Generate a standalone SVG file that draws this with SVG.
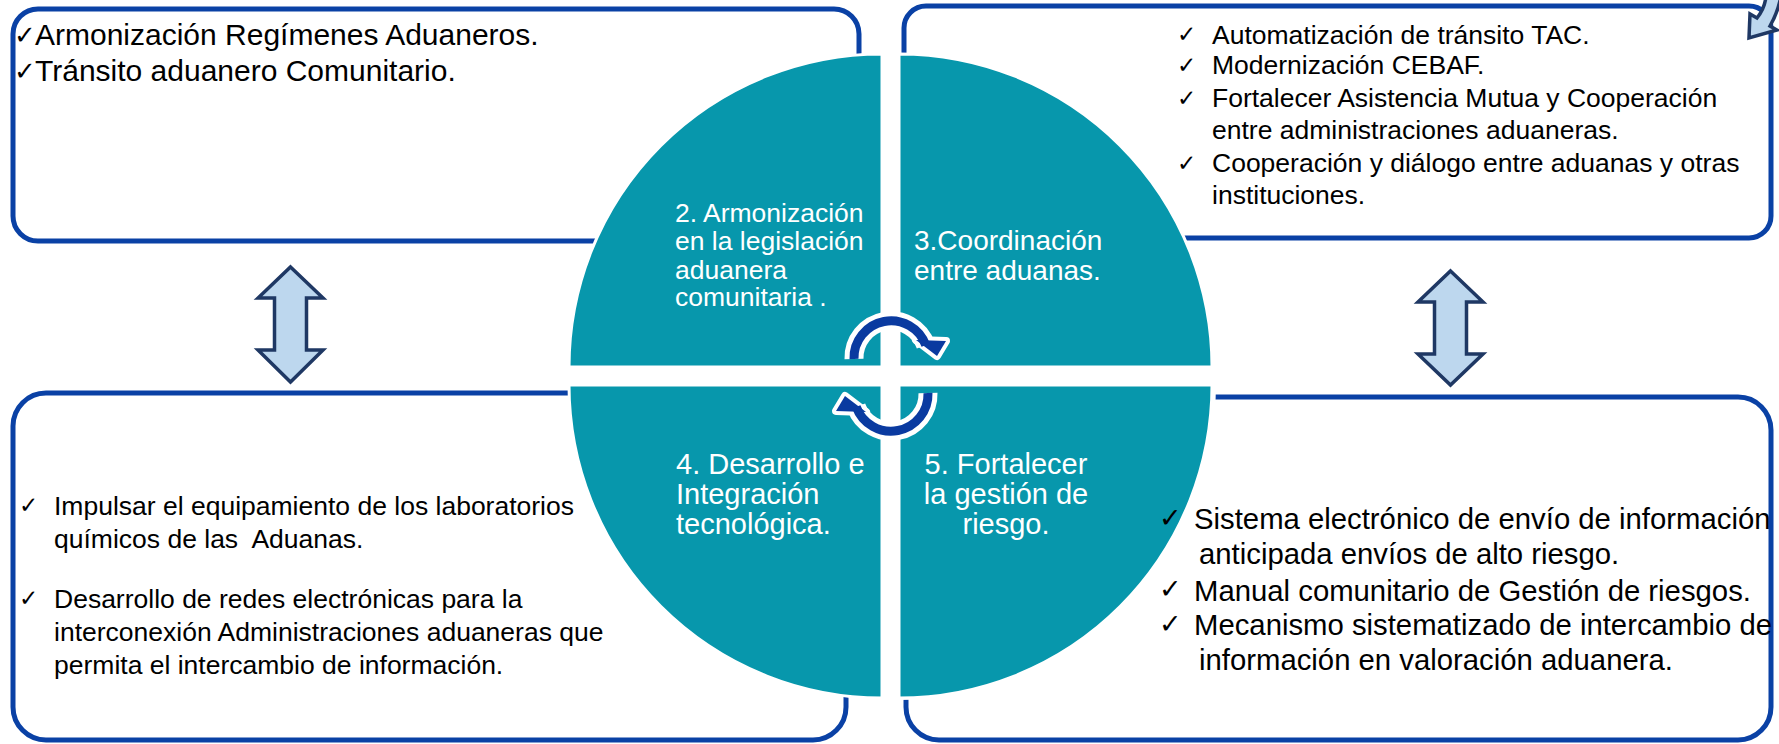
<svg xmlns="http://www.w3.org/2000/svg" width="1779" height="744" viewBox="0 0 1779 744">
<style>
.box{fill:#fff;stroke:#0a41a5;stroke-width:5}
.quad{fill:#0797ac;stroke:#fff;stroke-width:3}
.dbl{fill:#bdd7ee;stroke:#1f3864;stroke-width:3.5;stroke-linejoin:miter}
.t{font-family:"Liberation Sans",Arial,sans-serif;fill:#000}
.w{font-family:"Liberation Sans",Arial,sans-serif;fill:#fff}
.ck{font-family:"DejaVu Sans",sans-serif;fill:#000}
.arcw{fill:none;stroke:#fff;stroke-width:19}
.arcb{fill:none;stroke:#0a3aa0;stroke-width:9}
.headw{fill:#fff;stroke:#fff;stroke-width:8;stroke-linejoin:round}
.headb{fill:#0a3aa0}
</style>
<defs>
<clipPath id="outsideQ5">
<path clip-rule="evenodd" d="M0,0 H1779 V744 H0 Z M897,383 L1216,383 A317,317 0 0 1 897,700 Z"/>
</clipPath>
</defs>
<rect width="1779" height="744" fill="#fff"/>

<g id="box-top-left">
<rect class="box" x="13" y="9" width="846" height="232" rx="25"/>
<text class="ck" x="14" y="44" font-size="26">✓</text>
<text class="ck" x="14" y="80" font-size="26">✓</text>
<g class="t" font-size="30">
<text x="35" y="44.5">Armonización Regímenes Aduaneros.</text>
<text x="35" y="81">Tránsito aduanero Comunitario.</text>
</g>
</g>

<g id="box-top-right">
<rect class="box" x="904" y="6" width="867" height="232" rx="22"/>
<g class="ck" font-size="23">
<text x="1177" y="42">✓</text>
<text x="1177" y="73">✓</text>
<text x="1177" y="106">✓</text>
<text x="1177" y="171">✓</text>
</g>
<g class="t" font-size="26.5">
<text x="1212" y="43.5">Automatización de tránsito TAC.</text>
<text x="1212" y="74">Modernización CEBAF.</text>
<text x="1212" y="107">Fortalecer Asistencia Mutua y Cooperación</text>
<text x="1212" y="139">entre administraciones aduaneras.</text>
<text x="1212" y="172">Cooperación y diálogo entre aduanas y otras</text>
<text x="1212" y="203.5">instituciones.</text>
</g>
</g>

<g id="box-bottom-left">
<rect class="box" x="13" y="393" width="833" height="347" rx="33"/>
<g class="ck" font-size="23">
<text x="19" y="513">✓</text>
<text x="19" y="606">✓</text>
</g>
<g class="t" font-size="26.5">
<text x="54" y="514.5">Impulsar el equipamiento de los laboratorios</text>
<text x="54" y="547.5" xml:space="preserve">químicos de las  Aduanas.</text>
<text x="54" y="607.5">Desarrollo de redes electrónicas para la</text>
<text x="54" y="640.5">interconexión Administraciones aduaneras que</text>
<text x="54" y="673.5">permita el intercambio de información.</text>
</g>
</g>

<g id="quad-2">
<path class="quad" d="M882,367 L569,367 A313,313 0 0 1 882,54 Z"/>
<g class="w" font-size="26.5">
<text x="675" y="222">2. Armonización</text>
<text x="675" y="250">en la legislación</text>
<text x="675" y="278.5">aduanera</text>
<text x="675" y="306">comunitaria .</text>
</g>
</g>

<g id="quad-3">
<path class="quad" d="M899,367 L899,54 A313,313 0 0 1 1212,367 Z"/>
<g class="w" font-size="28">
<text x="914" y="250">3.Coordinación</text>
<text x="914" y="280">entre aduanas.</text>
</g>
</g>

<g id="quad-4">
<path class="quad" d="M882,385 L882,698 A313,313 0 0 1 569,385 Z"/>
<g class="w" font-size="29">
<text x="676" y="474">4. Desarrollo e</text>
<text x="676" y="504">Integración</text>
<text x="676" y="534">tecnológica.</text>
</g>
</g>

<g id="quad-5">
<path class="quad" d="M899,385 L1212,385 A313,313 0 0 1 899,698 Z"/>
<g class="w" font-size="29" text-anchor="middle">
<text x="1006" y="474">5. Fortalecer</text>
<text x="1006" y="504">la gestión de</text>
<text x="1006" y="534">riesgo.</text>
</g>
</g>

<g id="box-bottom-right">
<rect class="box" x="906" y="397" width="865" height="343" rx="33" clip-path="url(#outsideQ5)"/>
<g class="ck" font-size="27">
<text x="1159" y="527">✓</text>
<text x="1159" y="598">✓</text>
<text x="1159" y="633">✓</text>
</g>
<g class="t" font-size="29.3">
<text x="1194" y="529">Sistema electrónico de envío de información</text>
<text x="1199" y="564">anticipada envíos de alto riesgo.</text>
<text x="1194" y="600.5">Manual comunitario de Gestión de riesgos.</text>
<text x="1194" y="634.5">Mecanismo sistematizado de intercambio de</text>
<text x="1199" y="669.5">información en valoración aduanera.</text>
</g>
</g>

<g id="connectors">
<polygon class="dbl" points="290.5,267 323,298 306.5,298 306.5,350 323,350 290.5,382 258,350 274.5,350 274.5,298 258,298"/>
<polygon class="dbl" points="1450.5,271 1483,302 1466.5,302 1466.5,354 1483,354 1450.5,385 1418,354 1434.5,354 1434.5,302 1418,302"/>
<path class="dbl" d="M1766,-4 Q1765,8 1757,18 L1750,14 L1749,38 L1777,30 L1770,26 Q1778,12 1781,-4 Z"/>
<g id="cycle-top">
<path class="arcw" d="M854,359 A37,37 0 0 1 925.8,345.3"/>
<polygon class="headw" points="916,340 946,341 937,356"/>
<path class="arcb" d="M854,359 A37,37 0 0 1 925.8,345.3"/>
<polygon class="headb" points="916,340 946,341 937,356"/>
</g>
<g id="cycle-bottom">
<path class="arcw" d="M928,393 A37,37 0 0 1 856.2,406.7"/>
<polygon class="headw" points="866,412 836,411 845,396"/>
<path class="arcb" d="M928,393 A37,37 0 0 1 856.2,406.7"/>
<polygon class="headb" points="866,412 836,411 845,396"/>
</g>
</g>
</svg>
